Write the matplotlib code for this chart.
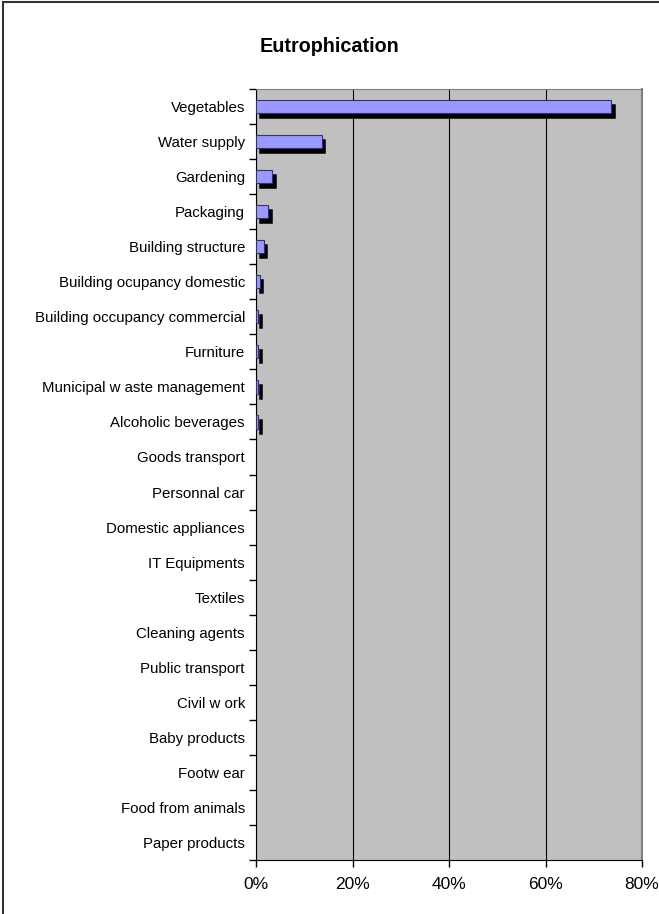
import matplotlib
matplotlib.use('Agg')
import matplotlib.pyplot as plt
import matplotlib.transforms as mtransforms
from matplotlib.patches import Rectangle
from matplotlib.ticker import FuncFormatter
import numpy as np

plt.rcParams['font.family'] = ['Liberation Sans', 'DejaVu Sans']

categories = ['Vegetables', 'Water supply', 'Gardening', 'Packaging',
              'Building structure', 'Building ocupancy domestic',
              'Building occupancy commercial', 'Furniture',
              'Municipal w aste management', 'Alcoholic beverages',
              'Goods transport', 'Personnal car', 'Domestic appliances',
              'IT Equipments', 'Textiles', 'Cleaning agents', 'Public transport',
              'Civil w ork', 'Baby products', 'Footw ear', 'Food from animals',
              'Paper products']
shares = [73.6, 13.6, 3.4, 2.5, 1.6, 0.8, 0.4, 0.4, 0.4, 0.4,
          0, 0, 0, 0, 0, 0, 0, 0, 0, 0, 0, 0]

fig = plt.figure(figsize=(6.59, 9.14), dpi=100)
fig.patch.set_facecolor('white')

# outer frame of the chart
fig.patches.append(Rectangle((3 / 659, -0.01), 1.0, 1 - 2 / 914 + 0.01,
                             transform=fig.transFigure, fill=False,
                             edgecolor='#333333', linewidth=1.5))

ax = fig.add_axes([256 / 659, 54 / 914, 386 / 659, 771 / 914])
ax.set_facecolor('#C0C0C0')

y = np.arange(len(categories))
vals = np.array(shares) / 100
shown = vals > 0

# drop shadow: same bars shifted right and down
shadow = mtransforms.ScaledTranslation(3.6 / 100, -5 / 100, fig.dpi_scale_trans)
ax.barh(y[shown], vals[shown], height=0.38, color='black', edgecolor='black',
        linewidth=1.1, transform=ax.transData + shadow, zorder=2)
ax.barh(y[shown], vals[shown], height=0.38, color='#9999FF', edgecolor='#333366',
        linewidth=0.8, zorder=3)

ax.set_xlim(0, 0.8)
ax.set_ylim(len(categories) - 0.5, -0.5)
ax.set_xticks([0, 0.2, 0.4, 0.6, 0.8])
ax.xaxis.set_major_formatter(FuncFormatter(lambda v, p: f'{v * 100:.0f}%'))
ax.tick_params(axis='x', direction='out', length=5, width=1, labelsize=12.5, pad=7)
ax.grid(axis='x', color='black', linewidth=0.8, zorder=1)
ax.set_axisbelow(True)

# tick marks between categories, labels at the bar centres
ax.set_yticks(np.arange(len(categories) + 1) - 0.5)
ax.set_yticklabels([])
ax.set_yticks(y, minor=True)
ax.set_yticklabels(categories, minor=True, fontsize=10.8)
ax.tick_params(axis='y', which='major', direction='out', length=5, width=1)
ax.tick_params(axis='y', which='minor', length=0, pad=8)

ax.spines['left'].set_color('black')
ax.spines['bottom'].set_color('black')
ax.spines['top'].set_color('#808080')
ax.spines['right'].set_color('#808080')
ax.spines['right'].set_linewidth(1.5)

fig.text(0.5, 1 - 47 / 914, 'Eutrophication', ha='center', va='center',
         fontsize=14.2, fontweight='bold')

plt.savefig('out.png', dpi=100, facecolor='white')
